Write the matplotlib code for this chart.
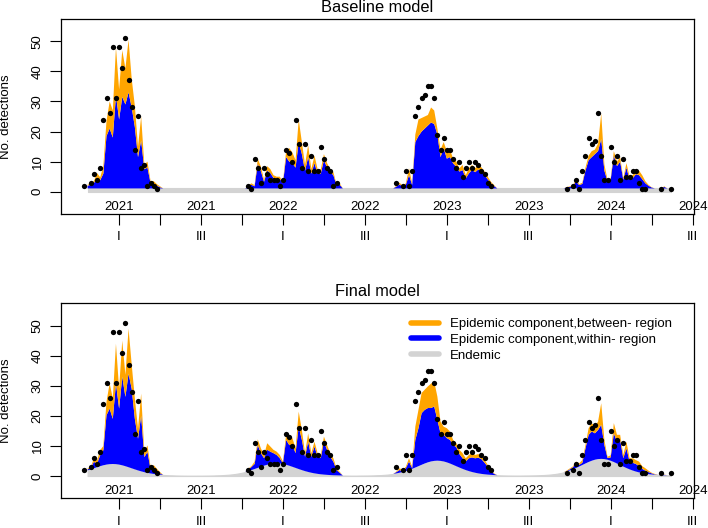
import matplotlib.pyplot as plt
import numpy as np
from matplotlib.lines import Line2D

plt.rcParams['font.family'] = ['Liberation Sans', 'DejaVu Sans']
plt.rcParams['font.size'] = 9.5

nan = np.nan
n_weeks = 187          # week 0 .. week 186
weeks = np.arange(n_weeks)

# observed weekly detections, one list per season (first week of each list)
season_start = [0, 52, 99, 153]
obs_s1 = [2, nan, 3, 6, 4, 8, 24, 31, 26, 48, 31, 48, 41, 51, 37, 28, 14, 25,
          8, 9, 2, 3, 2, 1]
obs_s2 = [2, 1, 11, 8, 3, 8, 6, 4, 4, 4, 2, 4, 14, 13, 10, 24, 16, 8, 16, 7,
          12, 7, 7, 15, 11, 8, 7, 2, 3]
obs_s3 = [3, nan, 2, 7, 2, 7, 25, 28, 31, 32, 35, 35, 31, 19, 14, 18, 14, 14,
          11, 8, 10, 5, 8, 10, 8, 10, 9, 7, 6, 3, 2]
obs_s4 = [1, nan, 2, 4, 1, 7, 12, 18, 16, 17, 26, 12, 4, 4, 15, 10, 12, 4, 11,
          5, 5, 7, 7, 3, 1, 1, nan, nan, nan, nan, 1, nan, nan, 1]

# fitted values, first week of each season window
fit_start = [1, 52, 99, 153]

# baseline model: endemic level (constant) and upper edges of the stacked areas
base_endemic = 1.1
base_within_s1 = [2.0, 2.3, 2.8, 4.8, 3.8, 6.0, 18.5, 21, 18, 32, 24, 31.5, 29,
                  33, 28, 21.5, 11.5, 17, 7.5, 8, 2.8, 2.6, 2.0, 1.5, 1.1]
base_total_s1 = [2.3, 2.8, 3.5, 6.2, 4.8, 8.5, 23.5, 30, 27, 48, 34, 47, 41,
                 50.5, 37.5, 28.5, 15, 25, 9, 10, 3.5, 3.5, 2.5, 1.8, 1.1]
base_within_s2 = [1.7, 2.3, 1.8, 9.3, 6.8, 3.3, 7, 6.2, 4.6, 4.3, 4.2, 2.8,
                  11.5, 10, 9.5, 8, 16.5, 12.5, 7, 11.5, 6, 9.5, 6, 6, 10.5, 8,
                  6.5, 5.5, 2.2, 2.3, 1.1]
base_total_s2 = [2.0, 2.8, 2.2, 11, 8.3, 4, 8.5, 7.5, 5.5, 5, 5, 3.2, 13.5,
                 14.5, 13, 10.5, 24, 16.5, 9, 15.5, 7.5, 12, 7.5, 7.5, 12.5,
                 9.5, 7.5, 6.5, 2.5, 2.8, 1.1]
base_within_s3 = [1.7, 2.4, 1.7, 2.3, 5.5, 2.3, 16.5, 18.5, 20, 21, 22, 23,
                  22.5, 19, 11.5, 14.5, 11, 11.5, 9.4, 8.3, 6.7, 7.2, 4.4, 6.1,
                  7.2, 6.5, 7.4, 6.7, 5.5, 4.1, 2.8, 1.9, 1.1]
base_total_s3 = [2.0, 3.0, 2.0, 2.8, 7.8, 2.8, 19, 24, 24.5, 25, 25.5, 28, 27,
                 21, 14, 16.5, 13.5, 14, 11, 10, 7.8, 8.9, 5.5, 7.8, 8.9, 7.8,
                 8.9, 8.1, 6.7, 5.0, 3.3, 2.2, 1.1]
base_within_s4 = [1.4, 1.6, 1.8, 3.4, 2.2, 2.6, 7.0, 10.5, 11.5, 12.5, 13.5,
                  17.5, 7.0, 3.5, 4.0, 12.0, 8.5, 10.0, 4.0, 8.0, 4.0, 4.5, 5.8,
                  5.5, 4.2, 2.8, 2.0, 1.4, 1.1, 1.1, 1.1, 1.6, 1.1, 1.1]
base_total_s4 = [1.5, 1.8, 2.0, 4.0, 2.5, 3.0, 8.0, 12.0, 13.5, 14.0, 16.0,
                 26.0, 9.0, 4.0, 4.5, 13.5, 10.0, 11.5, 4.5, 9.5, 5.0, 5.5, 7.0,
                 7.0, 5.5, 3.5, 2.3, 1.5, 1.1, 1.1, 1.1, 1.8, 1.1, 1.1]

# final model: seasonal endemic for weeks 1..186
final_endemic = [
    1.87, 2.21, 2.57, 2.93, 3.27, 3.57, 3.80, 3.95, 4.00, 3.95,
    3.80, 3.57, 3.27, 2.93, 2.57, 2.21, 1.87, 1.56, 1.28, 1.05,
    0.85, 0.69, 0.56, 0.45, 0.37, 0.30, 0.25, 0.22, 0.18, 0.16,
    0.14, 0.13, 0.12, 0.12, 0.12, 0.13, 0.13, 0.14, 0.15, 0.17,
    0.19, 0.23, 0.26, 0.32, 0.39, 0.47, 0.58, 0.72, 0.89, 1.10,
    1.35, 1.64, 1.97, 2.32, 2.70, 3.07, 3.43, 3.75, 3.99, 4.15,
    4.20, 4.15, 3.99, 3.75, 3.43, 3.07, 2.70, 2.32, 1.97, 1.64,
    1.35, 1.10, 0.89, 0.72, 0.58, 0.47, 0.39, 0.32, 0.26, 0.23,
    0.19, 0.17, 0.15, 0.14, 0.13, 0.13, 0.15, 0.16, 0.17, 0.18,
    0.20, 0.23, 0.28, 0.32, 0.39, 0.47, 0.58, 0.71, 0.88, 1.09,
    1.34, 1.64, 1.99, 2.39, 2.82, 3.27, 3.73, 4.17, 4.55, 4.85,
    5.03, 5.10, 5.03, 4.85, 4.55, 4.17, 3.73, 3.27, 2.82, 2.39,
    1.99, 1.64, 1.34, 1.09, 0.88, 0.71, 0.58, 0.47, 0.39, 0.32,
    0.28, 0.23, 0.20, 0.18, 0.17, 0.16, 0.15, 0.15, 0.17, 0.18,
    0.19, 0.21, 0.23, 0.26, 0.31, 0.36, 0.43, 0.52, 0.64, 0.79,
    0.98, 1.21, 1.49, 1.83, 2.22, 2.67, 3.15, 3.66, 4.17, 4.66,
    5.08, 5.42, 5.63, 5.70, 5.63, 5.42, 5.08, 4.66, 4.17, 3.66,
    3.15, 2.67, 2.22, 1.83, 1.49, 1.21, 0.98, 0.79, 0.64, 0.52,
    0.43, 0.36, 0.31, 0.26, 0.23, 0.21]
final_within_s1 = [2.2, 2.7, 4.7, 4.1, 6.9, 8.6, 20.2, 22.4, 19, 30.8, 22.4,
                   33, 26.3, 34, 29, 19, 12.4, 20, 6.3, 8, 2.2, 2.7, 1.7, 0.9,
                   0.37]
final_total_s1 = [2.5, 3.0, 5.8, 5.2, 8.6, 10, 24.7, 30.8, 25.8, 44, 29, 45,
                  33.6, 49, 37, 25.8, 15.8, 27.4, 8, 10.2, 3.0, 3.6, 2.4, 1.3,
                  0.37]
final_within_s2 = [2.2, 3.0, 4.0, 10.3, 7.6, 5.9, 8.7, 8.1, 7.6, 7, 5.9, 4.2,
                   12, 10.3, 10.3, 7.6, 16.4, 12, 6.4, 11.4, 6.4, 9.8, 6.4, 6,
                   11.4, 8.7, 6.4, 4.8, 2, 1.1, 0.17]
final_total_s2 = [2.5, 3.3, 4.8, 12.2, 9.2, 7, 10.9, 9.8, 8.7, 8.1, 7, 4.8,
                  13.7, 13.7, 12.6, 9.2, 21.4, 15.3, 7.6, 14.2, 7.6, 11.4, 7.6,
                  7, 13.1, 10.3, 7.6, 5.9, 2.6, 1.4, 0.17]
final_within_s3 = [1.3, 2.0, 1.5, 2.6, 4.8, 2.6, 12, 15.9, 20.9, 22, 22.6,
                   22.6, 23.1, 18.7, 14.2, 13.7, 12.6, 12, 10.3, 9.6, 7.3, 5.9,
                   4.8, 5.9, 6.2, 5.9, 6.1, 5.6, 4.4, 3.1, 1.7, 0.7, 0.28]
final_total_s3 = [1.5, 2.6, 2.0, 3.1, 5.9, 3.1, 16.4, 22, 27.6, 28.7, 29.8,
                  30.7, 31.4, 26.4, 18.1, 16.4, 15.9, 14.8, 12, 10.9, 8.7, 7.6,
                  5.9, 7, 7.6, 7, 7.3, 6.7, 5.3, 3.7, 2, 0.9, 0.28]
final_within_s4 = [1.6, 2.2, 2.9, 4.2, 3.7, 4.4, 9.2, 13.7, 14.8, 14.2, 15.3,
                   17, 10.3, 6.0, 6.2, 14.2, 11.4, 12, 5.9, 9.2, 4.8, 4.4, 4.0,
                   3.3, 2.4, 1.8, 1.3, 0.9, 0.55, 0.38, 0.33, 0.4, 0.24, 0.21]
final_total_s4 = [1.8, 2.5, 3.2, 4.8, 4.2, 5.3, 10.3, 15.9, 17.6, 16.4, 18.1,
                  24.2, 12, 6.4, 6.9, 17.6, 13.7, 13.7, 7, 11.4, 5.9, 5.9, 5.3,
                  4.8, 3.3, 2.6, 1.8, 1.1, 0.7, 0.4, 0.35, 0.5, 0.25, 0.21]

# time axis: quarter ticks, labels
quarter_ticks = [11, 24, 37, 50, 63, 76, 89, 102, 115, 128, 141, 154, 167, 180, 193]
quarter_labels = ['I', '', 'III', '', 'I', '', 'III', '', 'I', '', 'III', '',
                  'I', '', 'III']
year_ticks = [11, 37, 63, 89, 115, 141, 167, 193]
year_labels = ['2021', '2021', '2022', '2022', '2023', '2023', '2024', '2024']

legend_labels = ['Epidemic component,between- region',
                 'Epidemic component,within- region',
                 'Endemic']

c_between = '#FFA500'
c_within = '#0000FF'
c_endemic = '#D3D3D3'


def put(arr, start, values):
    arr[start:start + len(values)] = values


obs = np.full(n_weeks, nan)
for s, v in zip(season_start, [obs_s1, obs_s2, obs_s3, obs_s4]):
    put(obs, s, v)


def build(endemic, within_parts, total_parts):
    end = np.full(n_weeks, nan)
    end[1:] = endemic
    within = end.copy()
    total = end.copy()
    for s, w, t in zip(fit_start, within_parts, total_parts):
        put(within, s, w)
        put(total, s, t)
    within = np.maximum(within, end)
    total = np.maximum(total, within)
    return end, within, total


base = build(base_endemic,
             [base_within_s1, base_within_s2, base_within_s3, base_within_s4],
             [base_total_s1, base_total_s2, base_total_s3, base_total_s4])
final = build(final_endemic,
              [final_within_s1, final_within_s2, final_within_s3, final_within_s4],
              [final_total_s1, final_total_s2, final_total_s3, final_total_s4])


def draw_panel(ax, comps, title):
    end, within, total = comps
    ax.fill_between(weeks, 0, end, facecolor=c_endemic, edgecolor=c_endemic, lw=0.8)
    ax.fill_between(weeks, end, within, facecolor=c_within, lw=0)
    ax.fill_between(weeks, within, total, facecolor=c_between, lw=0)
    ax.plot(weeks, obs, 'o', color='black', ms=3.8, mew=0)

    ax.set_xlim(-7.44, 193.44)
    ax.set_ylim(-7.4, 57.4)
    ax.set_yticks([0, 10, 20, 30, 40, 50])
    ax.set_xticks(quarter_ticks)
    ax.set_xticklabels(quarter_labels)
    ax.tick_params(axis='x', length=8, width=0.8, pad=4.5)
    ax.tick_params(axis='y', length=8, width=0.8, pad=4.5, labelrotation=90)
    for lab in ax.get_yticklabels():
        lab.set_va('center')
    for w, yr in zip(year_ticks, year_labels):
        ax.text(w, 0.035, yr, transform=ax.get_xaxis_transform(),
                ha='center', va='center', clip_on=False)
    for sp in ax.spines.values():
        sp.set_linewidth(0.9)
    ax.set_title(title, fontsize=11.8, pad=5)
    ax.set_ylabel('No. detections')
    ax.yaxis.set_label_coords(-0.078, 0.5)


fig = plt.figure(figsize=(7.08, 5.28), dpi=100)
ax1 = fig.add_axes([61 / 708, 1 - 214 / 528, 633 / 708, 195 / 528])
ax2 = fig.add_axes([61 / 708, 1 - 498.3 / 528, 633 / 708, 195 / 528])

draw_panel(ax1, base, 'Baseline model')
draw_panel(ax2, final, 'Final model')

handles = [Line2D([], [], color=c, lw=4, solid_capstyle='round')
           for c in [c_between, c_within, c_endemic]]
ax2.legend(handles, legend_labels, loc='upper left', bbox_to_anchor=(0.553, 0.925),
           frameon=False, handlelength=2.1, handletextpad=0.85,
           labelspacing=0.28, borderpad=0, borderaxespad=0)

fig.savefig('out.png', dpi=100)
